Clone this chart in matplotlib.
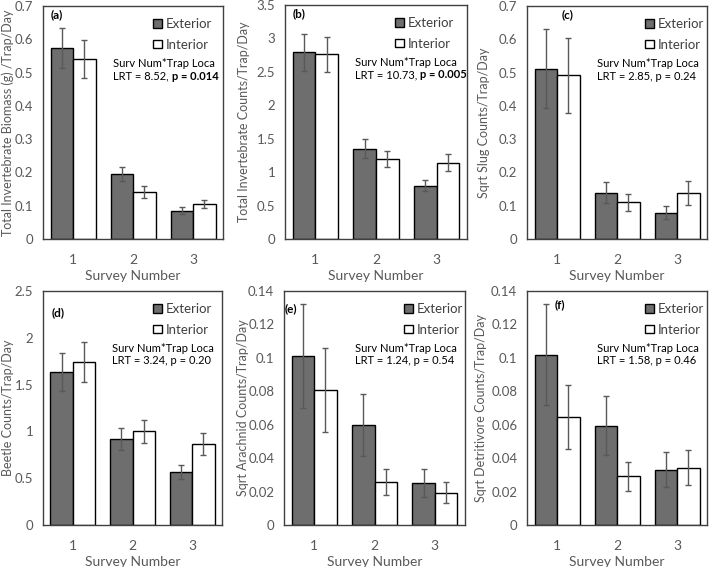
import matplotlib
matplotlib.use('Agg')
import matplotlib.pyplot as plt
import numpy as np

plt.rcParams['font.family'] = ['Lato', 'DejaVu Sans']

# ---- data ----
surveys = ['1', '2', '3']
series = ['Exterior', 'Interior']

ext_a = [0.575, 0.194, 0.085];  ext_a_err = [0.060, 0.021, 0.010]
int_a = [0.542, 0.141, 0.106];  int_a_err = [0.057, 0.017, 0.012]

ext_b = [2.79, 1.35, 0.80];     ext_b_err = [0.27, 0.14, 0.08]
int_b = [2.76, 1.19, 1.14];     int_b_err = [0.26, 0.12, 0.13]

ext_c = [0.512, 0.139, 0.079];  ext_c_err = [0.118, 0.032, 0.020]
int_c = [0.492, 0.110, 0.138];  int_c_err = [0.112, 0.025, 0.035]

ext_d = [1.636, 0.918, 0.568];  ext_d_err = [0.200, 0.120, 0.075]
int_d = [1.740, 1.000, 0.864];  int_d_err = [0.216, 0.125, 0.116]

ext_e = [0.1010, 0.0596, 0.0253];  ext_e_err = [0.0310, 0.0185, 0.0083]
int_e = [0.0806, 0.0257, 0.0192];  int_e_err = [0.0250, 0.0080, 0.0063]

ext_f = [0.1020, 0.0594, 0.0332];  ext_f_err = [0.0300, 0.0175, 0.0105]
int_f = [0.0647, 0.0292, 0.0344];  int_f_err = [0.0190, 0.0087, 0.0105]

ticks_a = [0, 0.1, 0.2, 0.3, 0.4, 0.5, 0.6, 0.7]
ticks_b = [0, 0.5, 1, 1.5, 2, 2.5, 3, 3.5]
ticks_d = [0, 0.5, 1, 1.5, 2, 2.5]
ticks_e = [0, 0.02, 0.04, 0.06, 0.08, 0.1, 0.12, 0.14]

ylabels = ['Total Invertebrate Biomass (g) /Trap/Day',
           'Total Invertebrate Counts/Trap/Day',
           'Sqrt Slug Counts/Trap/Day',
           'Beetle Counts/Trap/Day',
           'Sqrt Arachnid Counts/Trap/Day',
           'Sqrt Detritivore Counts/Trap/Day']
letters = ['(a)', '(b)', '(c)', '(d)', '(e)', '(f)']
lrt_text = ['LRT = 8.52, ', 'LRT = 10.73, ', 'LRT = 2.85, p = 0.24',
            'LRT = 3.24, p = 0.20', 'LRT = 1.24, p = 0.54', 'LRT = 1.58, p = 0.46']
lrt_bold = ['p = 0.014', 'p = 0.005', '', '', '', '']
#--------------------------------------#

W, H = 709, 567
dpi = 100
fig = plt.figure(figsize=(W/dpi, H/dpi), dpi=dpi, facecolor='white')

# pixel boxes (left, top, right, bottom) of each plot area
boxes = [(43, 6, 223, 239), (285, 5, 467, 239), (527, 6, 707, 239),
         (43, 291, 222, 525), (284, 291, 465, 525), (527, 291, 707, 525)]
ylab_x = [8, 244, 484, 8, 243, 481]   # pixel centre of y label
letter_pos = [(51, 15), (293, 14), (562, 15), (52, 313), (285, 309), (555, 305)]
legend_right = [212, 454, 704, 212, 463, 704]
annot_left = [113, 355, 597, 112, 355, 597]

panels = [(ext_a, ext_a_err, int_a, int_a_err, ticks_a),
          (ext_b, ext_b_err, int_b, int_b_err, ticks_b),
          (ext_c, ext_c_err, int_c, int_c_err, ticks_a),
          (ext_d, ext_d_err, int_d, int_d_err, ticks_d),
          (ext_e, ext_e_err, int_e, int_e_err, ticks_e),
          (ext_f, ext_f_err, int_f, int_f_err, ticks_e)]

grey = '#595959'
x = np.arange(len(surveys))
w = 0.375

for i, (ext, ext_err, inn, inn_err, ticks) in enumerate(panels):
    l, t, r, b = boxes[i]
    ax = fig.add_axes([l/W, 1 - b/H, (r - l)/W, (b - t)/H])
    bw = r - l
    bh = b - t

    ekw = dict(ecolor=grey, elinewidth=1, capsize=2, capthick=1)
    ax.bar(x - w/2, ext, w, yerr=ext_err, color='#6e6e6e', edgecolor='black',
           linewidth=1, error_kw=ekw, label=series[0], zorder=2)
    ax.bar(x + w/2, inn, w, yerr=inn_err, color='white', edgecolor='black',
           linewidth=1, error_kw=ekw, label=series[1], zorder=2)

    ax.set_xlim(-0.5, len(surveys) - 0.5)
    ax.set_ylim(ticks[0], ticks[-1])
    ax.set_xticks(x)
    ax.set_xticklabels(surveys)
    ax.set_yticks(ticks)
    ax.set_yticklabels(['%g' % v for v in ticks])
    ax.tick_params(length=0, labelcolor=grey)
    ax.tick_params(axis='x', pad=11, labelsize=10)
    ax.tick_params(axis='y', pad=7, labelsize=9.5)
    for s in ax.spines.values():
        s.set_color('#404040')
        s.set_linewidth(1)

    ax.set_xlabel('Survey Number', fontsize=10, color=grey, labelpad=3)
    ax.set_ylabel(ylabels[i], fontsize=9, color=grey, va='center')
    ax.yaxis.set_label_coords((ylab_x[i] - l)/bw, 0.5)

    lx, ly = letter_pos[i]
    ax.text((lx - l)/bw, (b - ly)/bh, letters[i], transform=ax.transAxes,
            fontsize=8.5, fontweight='bold', ha='left', va='center')

    leg = ax.legend(loc='upper right', bbox_to_anchor=((legend_right[i] - l)/bw, 1 - 12/bh),
                    frameon=False, fontsize=9.5, handlelength=0.65, handleheight=0.65,
                    handletextpad=0.3, labelspacing=0.65, borderpad=0, borderaxespad=0)
    for txt in leg.get_texts():
        txt.set_color('#404040')

    ax_left = (annot_left[i] - l)/bw
    ax.text(ax_left, 1 - 57/bh, 'Surv Num*Trap Loca', transform=ax.transAxes,
            fontsize=8, ha='left', va='center')
    t1 = ax.text(ax_left, 1 - 70/bh, lrt_text[i], transform=ax.transAxes,
                 fontsize=8, ha='left', va='center')
    if lrt_bold[i]:
        ax.annotate(lrt_bold[i], xy=(1, 0.5), xycoords=t1, fontsize=8,
                    fontweight='bold', ha='left', va='center')

fig.savefig('out.png', dpi=dpi, facecolor='white')
